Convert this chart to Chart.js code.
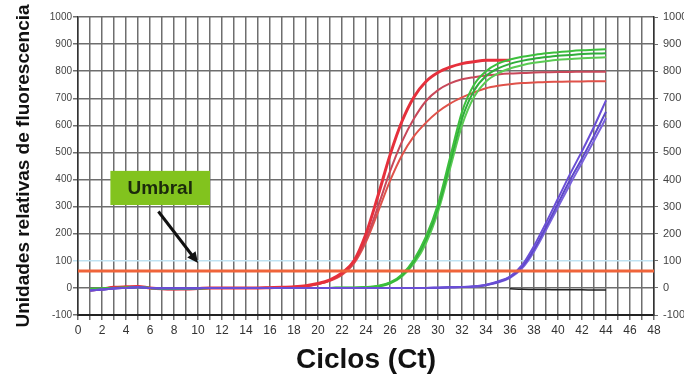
<!DOCTYPE html>
<html>
<head>
<meta charset="utf-8">
<script src="https://cdn.jsdelivr.net/npm/chart.js@4/dist/chart.umd.min.js"></script>
<style>
  html, body { margin: 0; padding: 0; background: #fff; }
  #wrap { width: 684px; height: 380px; }
</style>
</head>
<body>
<div id="wrap"><canvas id="qpcr"></canvas></div>
<script>
// amplification cycles (x axis)
const cycles = [1, 2, 3, 4, 5, 6, 7, 8, 9, 10, 11, 12, 13, 14, 15, 16, 17, 18, 19, 20, 21, 22,
  23, 24, 25, 26, 27, 28, 29, 30, 31, 32, 33, 34, 35, 36, 37, 38, 39, 40, 41, 42, 43, 44];

// fluorescence readings per sample, one value per cycle
const redA = [-8, -4, 2, 4, 5, 0, -3, -4, -4, -2, 0, 0, 0, 0, 0, 1, 2, 4, 8, 16, 30, 55, 100, 200,
  340, 490, 615, 705, 762, 795, 815, 828, 835, 840, 840, 840];
const redB = [-6, -3, 2, 3, 4, 0, -4, -5, -4, -3, 0, 0, 0, 0, 0, 1, 2, 3, 7, 15, 28, 52, 95, 180,
  300, 430, 540, 625, 690, 730, 755, 770, 778, 784, 788, 791, 793, 795, 796, 797, 797, 798, 798, 798];
const redC = [-5, -2, 1, 3, 3, 0, -3, -4, -3, -2, 0, 0, 0, 0, 0, 1, 2, 3, 6, 14, 26, 48, 90, 170,
  280, 395, 490, 560, 610, 650, 680, 703, 722, 737, 746, 752, 756, 758, 760, 761, 762, 762, 763, 763];

const greenA = [-4, -2, 0, 1, 2, 0, -3, -4, -3, -1, 0, 0, 0, 0, 0, 0, 0, 0, 0, 0, 0, 1, 1,
  3, 8, 20, 50, 105, 190, 310, 480, 650, 750, 800, 828, 843, 853, 860, 866, 870, 874, 877, 879, 881];
const greenB = [-4, -2, 0, 1, 2, 0, -3, -4, -3, -1, 0, 0, 0, 0, 0, 0, 0, 0, 0, 0, 0, 1, 1,
  2, 6, 18, 46, 98, 178, 295, 460, 625, 728, 782, 810, 827, 838, 846, 852, 857, 860, 863, 865, 866];
const greenC = [-4, -2, 0, 1, 2, 0, -3, -4, -3, -1, 0, 0, 0, 0, 0, 0, 0, 0, 0, 0, 0, 1, 1,
  2, 5, 16, 42, 90, 165, 280, 440, 600, 705, 762, 792, 810, 822, 831, 837, 842, 845, 848, 850, 851];

const blueA = [-10, -6, -2, 0, 2, 0, -1, -1, -1, -1, 0, 0, 0, 0, 0, 0, 0, 0, 0, 0, 0, 0, 0, 0, 0, 0,
  0, 0, 0, 1, 2, 3, 6, 12, 24, 42, 84, 155, 240, 330, 420, 505, 595, 692];
const blueB = [-10, -6, -2, 0, 2, 0, -1, -1, -1, -1, 0, 0, 0, 0, 0, 0, 0, 0, 0, 0, 0, 0, 0, 0, 0, 0,
  0, 0, 0, 1, 2, 3, 5, 11, 22, 40, 78, 142, 225, 312, 398, 478, 562, 650];
const blueC = [-10, -6, -2, 0, 2, 0, -1, -1, -1, -1, 0, 0, 0, 0, 0, 0, 0, 0, 0, 0, 0, 0, 0, 0, 0, 0,
  0, 0, 0, 1, 2, 3, 4, 10, 20, 37, 72, 134, 214, 298, 382, 462, 543, 627];

// negative control
const blackCycles = [36, 37, 38, 39, 40, 41, 42, 43, 44];
const black = [-3, -5, -6, -6, -7, -7, -7, -8, -8];

// threshold ("Umbral")
const thresholdValue = 62;
const thresholdSpan = [0, 48];

// axis ranges
const xRange = [0, 48];
const yRange = [-100, 1000];

const pts = (xs, ys) => ys.map((v, i) => ({ x: xs[i], y: v }));

const curve = (values, color, width, xs = cycles) => ({
  data: pts(xs, values),
  borderColor: color,
  borderWidth: width,
  pointRadius: 0,
  cubicInterpolationMode: 'monotone',
  fill: false
});

const gridColor = '#6e6e6e';

// "Umbral" callout with arrow, positioned in data units
const umbralNote = {
  id: 'umbralNote',
  afterDatasetsDraw(chart) {
    const { ctx, scales: { x, y } } = chart;
    const left = x.getPixelForValue(2.7), right = x.getPixelForValue(11);
    const top = y.getPixelForValue(432), bottom = y.getPixelForValue(306);
    ctx.save();
    ctx.fillStyle = '#82c31e';
    ctx.fillRect(left, top, right - left, bottom - top);
    ctx.fillStyle = '#1b2a0c';
    ctx.font = 'bold 19px "Liberation Sans", Arial, sans-serif';
    ctx.textAlign = 'center';
    ctx.textBaseline = 'middle';
    ctx.fillText('Umbral', (left + right) / 2, (top + bottom) / 2 + 1);

    const x0 = x.getPixelForValue(6.7), y0 = y.getPixelForValue(282);
    const x1 = x.getPixelForValue(10), y1 = y.getPixelForValue(92);
    const ang = Math.atan2(y1 - y0, x1 - x0);
    ctx.strokeStyle = '#111';
    ctx.lineWidth = 3;
    ctx.beginPath();
    ctx.moveTo(x0, y0);
    ctx.lineTo(x1 - 6 * Math.cos(ang), y1 - 6 * Math.sin(ang));
    ctx.stroke();
    ctx.fillStyle = '#111';
    ctx.beginPath();
    ctx.moveTo(x1, y1);
    ctx.lineTo(x1 - 12 * Math.cos(ang - 0.45), y1 - 12 * Math.sin(ang - 0.45));
    ctx.lineTo(x1 - 12 * Math.cos(ang + 0.45), y1 - 12 * Math.sin(ang + 0.45));
    ctx.closePath();
    ctx.fill();
    ctx.restore();
  }
};

const tickFont = { family: '"Liberation Sans", Arial, sans-serif', size: 11 };
const plainNumber = v => String(v);

new Chart(document.getElementById('qpcr'), {
  type: 'line',
  data: {
    datasets: [
      {
        data: thresholdSpan.map(v => ({ x: v, y: thresholdValue })),
        borderColor: '#f0643a',
        borderWidth: 3,
        pointRadius: 0
      },
      curve(blueA, '#6a4ed6', 2),
      curve(blueB, '#5d48c8', 2),
      curve(blueC, '#7a62dc', 2),
      curve(black, '#222222', 1.5, blackCycles),
      curve(greenA, '#3cbf3c', 2),
      curve(greenB, '#2fae3a', 2),
      curve(greenC, '#5acb52', 2),
      curve(redA, '#e6303c', 3),
      curve(redB, '#c8485a', 2),
      curve(redC, '#e0524a', 2)
    ]
  },
  options: {
    responsive: true,
    maintainAspectRatio: false,
    animation: false,
    layout: { padding: { left: 4, top: 17, right: 0, bottom: 0 } },
    plugins: {
      legend: { display: false },
      tooltip: { enabled: false }
    },
    scales: {
      x: {
        type: 'linear',
        min: xRange[0],
        max: xRange[1],
        border: { color: '#222', width: 2 },
        grid: { color: gridColor, lineWidth: 1.5, tickLength: 5 },
        ticks: {
          stepSize: 1,
          autoSkip: false,
          maxRotation: 0,
          padding: 3,
          color: '#333',
          font: { ...tickFont, size: 12 },
          callback: v => (v % 2 === 0 ? String(v) : '')
        },
        title: {
          display: true,
          text: 'Ciclos (Ct)',
          color: '#111',
          font: { family: '"Liberation Sans", Arial, sans-serif', size: 28, weight: 'bold' },
          padding: { top: 0, bottom: 3 }
        },
        afterFit: s => { s.height = 65; }
      },
      y: {
        min: yRange[0],
        max: yRange[1],
        border: { color: '#333', width: 1.5 },
        grid: {
          color: c => (c.tick && c.tick.value === 100 ? '#bfe2f2' : gridColor),
          lineWidth: 1.5,
          tickLength: 5
        },
        ticks: { stepSize: 100, padding: 1, color: '#444', font: { ...tickFont, size: 10 }, callback: plainNumber },
        title: {
          display: true,
          text: 'Unidades relativas de fluorescencia',
          color: '#111',
          font: { family: '"Liberation Sans", Arial, sans-serif', size: 19, weight: 'bold' },
          padding: { top: 8, bottom: 0 }
        },
        afterFit: s => { s.width = 74; }
      },
      y2: {
        position: 'right',
        min: yRange[0],
        max: yRange[1],
        border: { color: '#333', width: 1.5 },
        grid: { drawOnChartArea: false, color: gridColor, tickLength: 4 },
        ticks: { stepSize: 100, padding: 5, color: '#444', font: { ...tickFont, size: 11 }, callback: plainNumber },
        afterFit: s => { s.width = 30; }
      }
    }
  },
  plugins: [umbralNote]
});
</script>
</body>
</html>
